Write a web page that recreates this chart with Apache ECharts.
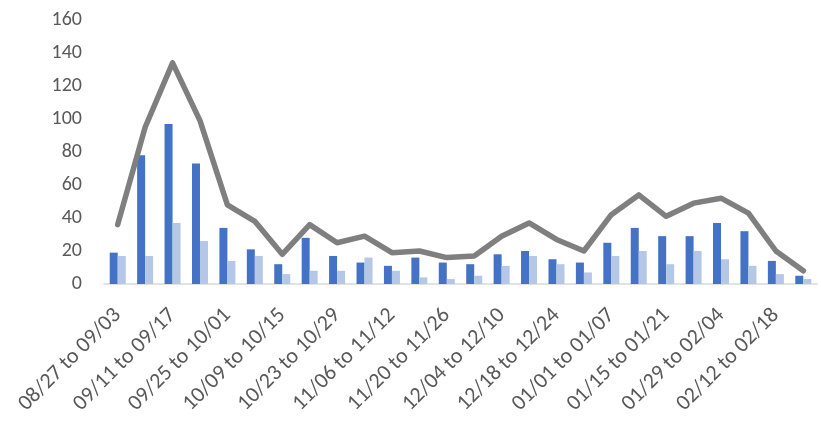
<!DOCTYPE html>
<html>
<head>
<meta charset="utf-8">
<script src="https://cdn.jsdelivr.net/npm/echarts@6/dist/echarts.min.js"></script>
<style>
html,body{margin:0;padding:0;background:#fff;}
#chart{width:821px;height:421px;}
</style>
</head>
<body>
<div id="chart"></div>
<script>
const categories = [
  "08/27 to 09/03","09/04 to 09/10","09/11 to 09/17","09/18 to 09/24","09/25 to 10/01",
  "10/02 to 10/08","10/09 to 10/15","10/16 to 10/22","10/23 to 10/29","10/30 to 11/05",
  "11/06 to 11/12","11/13 to 11/19","11/20 to 11/26","11/27 to 12/03","12/04 to 12/10",
  "12/11 to 12/17","12/18 to 12/24","12/25 to 12/31","01/01 to 01/07","01/08 to 01/14",
  "01/15 to 01/21","01/22 to 01/28","01/29 to 02/04","02/05 to 02/11","02/12 to 02/18",
  "02/19 to 02/25"
];
const seriesA = [19,78,97,73,34,21,12,28,17,13,11,16,13,12,18,20,15,13,25,34,29,29,37,32,14,5];
const seriesB = [17,17,37,26,14,17,6,8,8,16,8,4,3,5,11,17,12,7,17,20,12,20,15,11,6,3];
const totals  = [36,95,134,99,48,38,18,36,25,29,19,20,16,17,29,37,27,20,42,54,41,49,52,43,20,8];
const yTicks = [0,20,40,60,80,100,120,140,160];

const chart = echarts.init(document.getElementById('chart'));
const font = "Carlito, 'Liberation Sans', Arial, sans-serif";
chart.setOption({
  animation: false,
  grid: {left: 104, right: 4, top: 20, bottom: 137, containLabel: false},
  xAxis: {
    type: 'category',
    data: categories,
    boundaryGap: true,
    axisLine: {show: true, lineStyle: {color: '#d9d9d9', width: 1.5}},
    axisTick: {show: false},
    axisLabel: {interval: 1, rotate: 45, margin: 28, color: '#595959', fontSize: 22, fontFamily: font}
  },
  yAxis: {
    type: 'value',
    min: yTicks[0],
    max: yTicks[yTicks.length - 1],
    interval: 20,
    splitLine: {show: false},
    axisLine: {show: false},
    axisTick: {show: false},
    axisLabel: {margin: 22, color: '#595959', fontSize: 20, fontFamily: font}
  },
  series: [
    {type: 'bar', data: seriesA, barWidth: 8, barGap: '0%', itemStyle: {color: '#4472C4'}},
    {type: 'bar', data: seriesB, barWidth: 8, barGap: '0%', itemStyle: {color: '#B4C7E7'}},
    {type: 'line', data: totals, symbol: 'none', z: 5,
     lineStyle: {color: '#7F7F7F', width: 5.5, cap: 'round', join: 'round'}}
  ]
});
</script>
</body>
</html>
